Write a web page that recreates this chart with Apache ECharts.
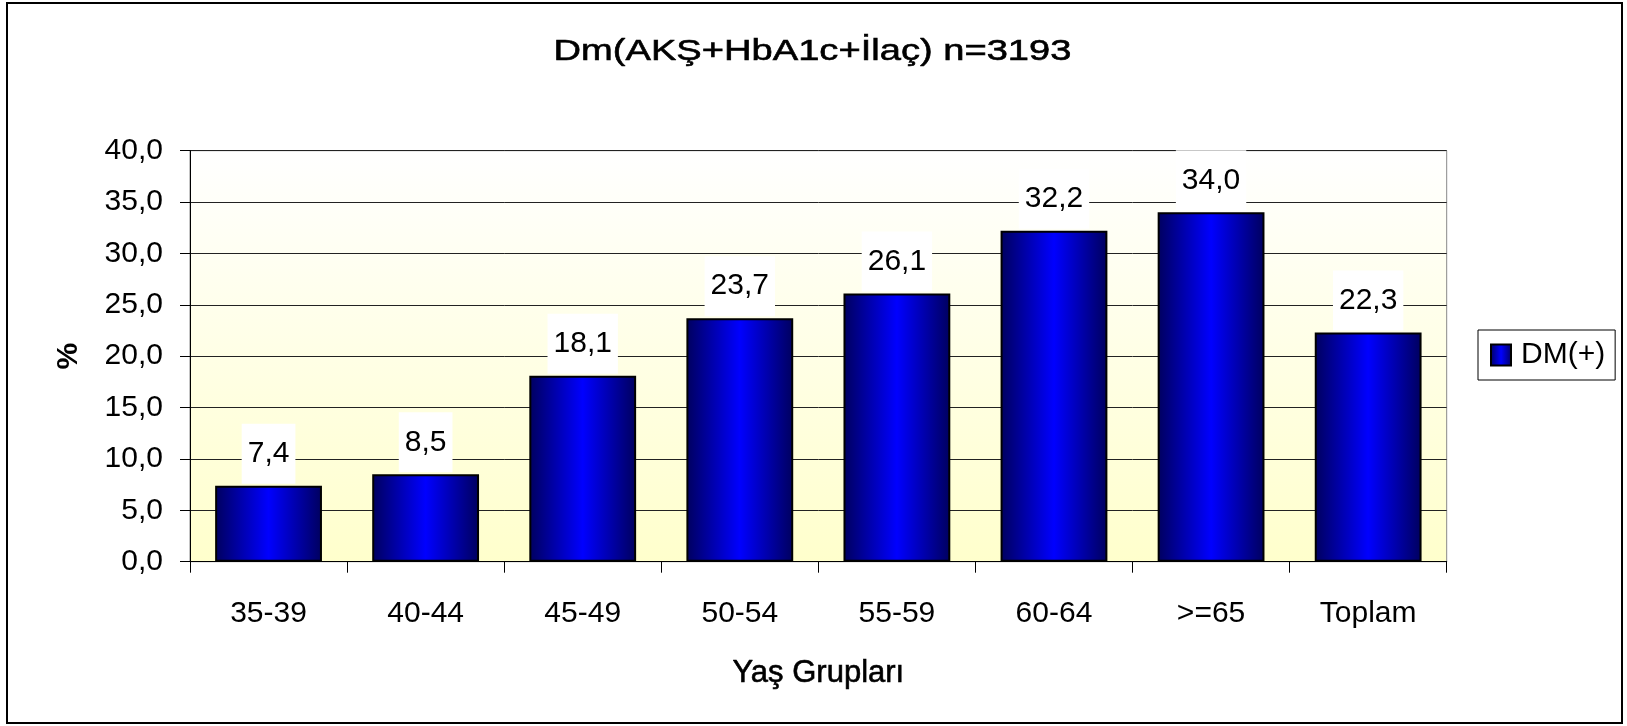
<!DOCTYPE html>
<html>
<head>
    <meta charset="utf-8">
    <title>Dm(AKŞ+HbA1c+İlaç) n=3193</title>
    <script src="https://cdn.jsdelivr.net/npm/echarts@6/dist/echarts.min.js"></script>
    <style>
        html, body { margin: 0; padding: 0; background: #fff; overflow: hidden; }
        #chart { width: 1627px; height: 726px; }
    </style>
</head>
<body>
<div id="chart"></div>
<script type="text/javascript">
    // data
    var categories = ['35-39', '40-44', '45-49', '50-54', '55-59', '60-64', '>=65', 'Toplam'];
    var dmValues = [7.4, 8.5, 18.1, 23.7, 26.1, 32.2, 34.0, 22.3];
    var seriesName = 'DM(+)';
    var titleText = 'Dm(AKŞ+HbA1c+İlaç) n=3193';
    var xName = 'Yaş Grupları';
    var yName = '%';

    var font = '"Liberation Sans", Arial, sans-serif';

    // 7.4 -> "7,4"
    function comma(v) {
        return Number(v).toFixed(1).replace('.', ',');
    }

    var myChart = echarts.init(document.getElementById('chart'));

    myChart.setOption({
        backgroundColor: '#fff',
        animation: false,
        legend: {
            data: [seriesName],
            left: 1478,
            top: 330,
            orient: 'vertical',
            padding: [10, 10, 10, 12],
            borderColor: '#000',
            borderWidth: 1,
            backgroundColor: '#fff',
            itemWidth: 20,
            itemHeight: 21,
            icon: 'rect',
            textStyle: { fontFamily: font, fontSize: 30, color: '#000', padding: [0, 0, 0, 5] }
        },
        grid: {
            left: 190,
            right: 180.3,
            top: 150.7,
            bottom: 164.3,
            show: true,
            borderColor: '#888',
            borderWidth: 1,
            backgroundColor: {
                type: 'linear', x: 0, y: 0, x2: 0, y2: 1,
                colorStops: [
                    { offset: 0, color: '#ffffff' },
                    { offset: 1, color: '#ffffcc' }
                ]
            }
        },
        xAxis: {
            type: 'category',
            data: categories,
            name: xName,
            nameLocation: 'middle',
            nameGap: 96,
            nameTextStyle: {
                fontFamily: font, fontSize: 31, color: '#000', verticalAlign: 'top',
                textBorderColor: '#000', textBorderWidth: 0.6
            },
            axisLine: { lineStyle: { color: '#000', width: 1 } },
            axisTick: { show: true, length: 11, lineStyle: { color: '#000' } },
            axisLabel: { margin: 37, fontFamily: font, fontSize: 30, color: '#000' }
        },
        yAxis: {
            type: 'value',
            min: 0,
            max: 40,
            interval: 5,
            name: yName,
            nameLocation: 'middle',
            nameGap: 106,
            nameTextStyle: { fontFamily: font, fontSize: 30, fontWeight: 'bold', color: '#000' },
            axisLine: { show: true, lineStyle: { color: '#000', width: 1 } },
            axisTick: { show: true, length: 10, lineStyle: { color: '#000' } },
            axisLabel: {
                margin: 27,
                fontFamily: font,
                fontSize: 30,
                color: '#000',
                formatter: comma
            },
            splitLine: { show: true, lineStyle: { color: '#222', width: 1 } }
        },
        series: [
            {
                name: seriesName,
                type: 'bar',
                data: dmValues,
                barWidth: '68%',
                itemStyle: {
                    color: {
                        type: 'linear', x: 0, y: 0, x2: 1, y2: 0,
                        colorStops: [
                            { offset: 0, color: '#00005e' },
                            { offset: 0.5, color: '#0000ff' },
                            { offset: 1, color: '#00005e' }
                        ]
                    },
                    borderColor: '#000',
                    borderWidth: 2
                },
                label: {
                    show: true,
                    position: 'top',
                    distance: 2,
                    backgroundColor: '#fff',
                    padding: [12, 6, 12, 6],
                    lineHeight: 36,
                    fontFamily: font,
                    fontSize: 30,
                    color: '#000',
                    formatter: function (p) { return comma(p.value); }
                }
            }
        ],
        graphic: [
            {
                // outer frame of the chart
                type: 'rect',
                shape: { x: 7, y: 3, width: 1615, height: 720 },
                style: { fill: 'none', stroke: '#000', lineWidth: 2 },
                silent: true
            },
            {
                // title, drawn wider than the font like in the original
                type: 'text',
                x: 812.5,
                y: 52,
                scaleX: 1.27,
                style: {
                    text: titleText,
                    x: 0,
                    y: 0,
                    align: 'center',
                    verticalAlign: 'middle',
                    textAlign: 'center',
                    textVerticalAlign: 'middle',
                    fontFamily: font,
                    fontSize: 30,
                    fill: '#000',
                    stroke: '#000',
                    lineWidth: 0.6
                },
                silent: true
            }
        ]
    });
</script>
</body>
</html>
